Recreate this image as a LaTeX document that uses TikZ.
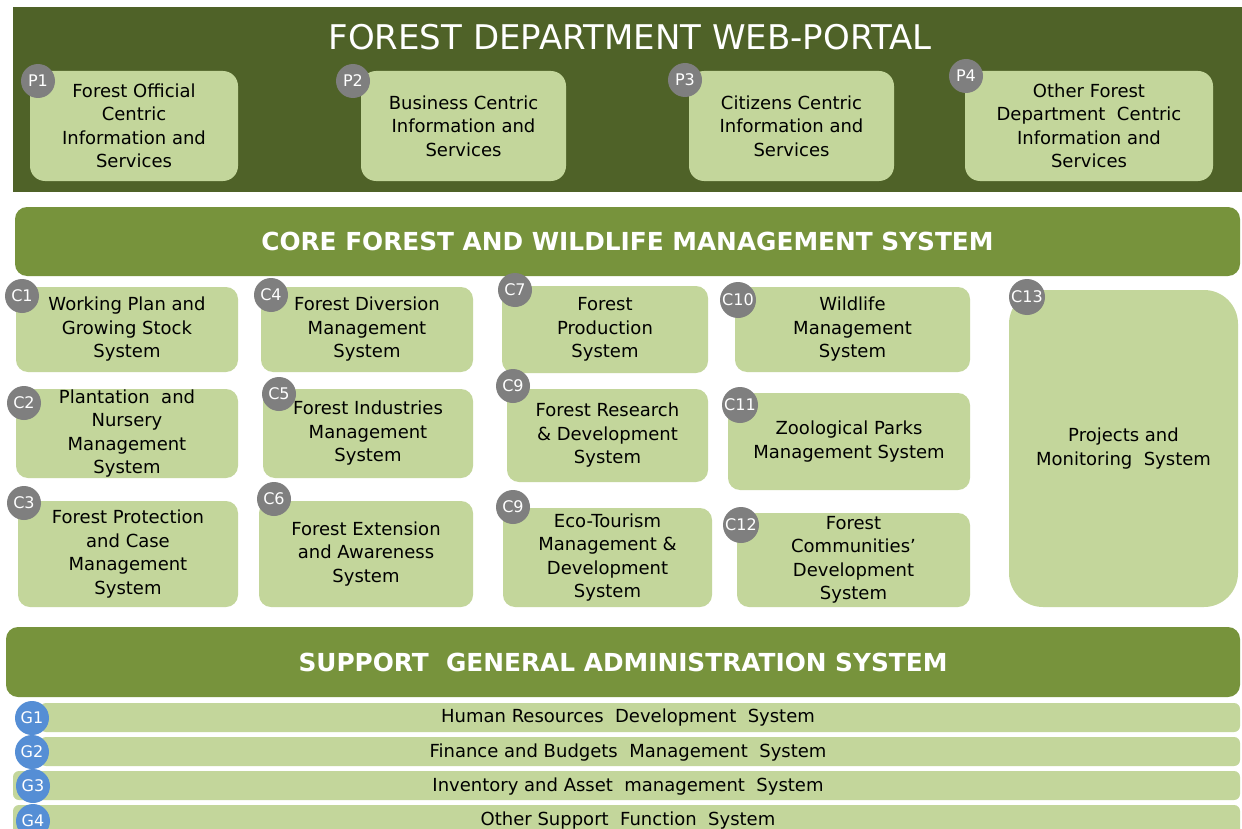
\documentclass[tikz,border=0pt]{standalone}
\usepackage{fontspec}
\setmainfont{DejaVu Sans}
\usepackage{xcolor}
\usetikzlibrary{positioning}

\definecolor{portalgreen}{HTML}{4F6228}
\definecolor{bandgreen}{HTML}{77933C}
\definecolor{boxgreen}{HTML}{C3D69B}
\definecolor{badgegray}{HTML}{7F7F7F}
\definecolor{badgeblue}{HTML}{558ED5}

\tikzset{
    band/.style={fill=bandgreen, rounded corners=6pt, inner sep=0pt, text=white,
        minimum height=35pt, font=\fontsize{12.4}{14}\selectfont\bfseries},
    pbox/.style={fill=boxgreen, rounded corners=7.5pt, inner sep=0pt, align=center,
        minimum height=55pt, font=\fontsize{9}{11.75}\selectfont},
    cbox/.style={pbox, rounded corners=6pt},
    gbar/.style={fill=boxgreen, rounded corners=3pt, inner sep=0pt, minimum height=14.5pt},
    gtext/.style={inner sep=0pt, font=\fontsize{9}{10}\selectfont},
    badge/.style={circle, fill=badgegray, text=white, minimum size=17pt, inner sep=0pt,
        font=\fontsize{8}{9}\selectfont},
    gbadge/.style={badge, fill=badgeblue}
}

\begin{document}
\begin{tikzpicture}[x=0.5pt, y=-0.5pt]
    \clip (0,0) rectangle (1242,829);
    \fill[white] (0,0) rectangle (1242,829);

    % Web portal
    \fill[portalgreen] (13,7) rectangle (1242,192);
    \node[text=white, font=\fontsize{17}{19}\selectfont] (portaltitle) at (630,37) {FOREST DEPARTMENT WEB-PORTAL};
    \node[pbox, minimum width=104pt] (p1) at (134,126) {Forest Official\\Centric\\Information and\\Services};
    \node[pbox, minimum width=102.5pt] (p2) at (463.5,126) {Business Centric\\Information and\\Services};
    \node[pbox, minimum width=102.5pt] (p3) at (791.5,126) {Citizens Centric\\Information and\\Services};
    \node[pbox, minimum width=124pt] (p4) at (1089,126) {Other Forest\\Department \ Centric\\Information and\\Services};
    \node[badge] (bp1) at (38,81) {P1};
    \node[badge] (bp2) at (353,81) {P2};
    \node[badge] (bp3) at (685,80) {P3};
    \node[badge] (bp4) at (966,76) {P4};

    % Core system
    \node[band, minimum width=612.5pt, minimum height=34.5pt] (core) at (627.5,241.5) {CORE FOREST AND WILDLIFE MANAGEMENT SYSTEM};

    \node[cbox, minimum width=111pt, minimum height=42.5pt] (c1) at (127,329.5) {Working Plan and\\Growing Stock\\System};
    \node[cbox, minimum width=111pt, minimum height=44.5pt] (c2) at (127,433.5) {Plantation \ and\\Nursery\\Management\\System};
    \node[cbox, minimum width=110pt, minimum height=53pt] (c3) at (128,554) {Forest Protection\\and Case\\Management\\System};
    \node[cbox, minimum width=106pt, minimum height=42.5pt] (c4) at (367,329.5) {Forest Diversion\\Management\\System};
    \node[cbox, minimum width=105pt, minimum height=44.5pt] (c5) at (368,433.5) {Forest Industries\\Management\\System};
    \node[cbox, minimum width=107pt, minimum height=53pt] (c6) at (366,554) {Forest Extension\\and Awareness\\System};
    \node[cbox, minimum width=103pt, minimum height=43.5pt] (c7) at (605,329.5) {Forest\\Production\\System};
    \node[cbox, minimum width=100.5pt, minimum height=46.5pt] (c9a) at (607.5,435.5) {Forest Research\\\& Development\\System};
    \node[cbox, minimum width=104.5pt, minimum height=49.5pt] (c9b) at (607.5,557.5) {Eco-Tourism\\Management \&\\Development\\System};
    \node[cbox, minimum width=117.5pt, minimum height=42.5pt] (c10) at (852.5,329.5) {Wildlife\\Management\\System};
    \node[cbox, minimum width=121pt, minimum height=48.5pt] (c11) at (849,441.5) {Zoological Parks\\Management System};
    \node[cbox, minimum width=116.5pt, minimum height=47pt] (c12) at (853.5,560) {Forest\\Communities’\\Development\\System};
    \node[cbox, rounded corners=17pt, minimum width=114.5pt, minimum height=158.5pt] (c13) at (1123.5,448.5) {Projects and\\Monitoring \ System};

    \node[badge] (bc1) at (22,296) {C1};
    \node[badge] (bc2) at (24,403) {C2};
    \node[badge] (bc3) at (24,503) {C3};
    \node[badge] (bc4) at (271,295) {C4};
    \node[badge] (bc5) at (279,394) {C5};
    \node[badge] (bc6) at (274,499) {C6};
    \node[badge] (bc7) at (515,290) {C7};
    \node[badge] (bc9a) at (513,386) {C9};
    \node[badge] (bc9b) at (513,507) {C9};
    \node[badge, minimum size=18pt] (bc10) at (738,300) {C10};
    \node[badge, minimum size=18pt] (bc11) at (740,405) {C11};
    \node[badge, minimum size=18pt] (bc12) at (741,525) {C12};
    \node[badge, minimum size=18pt] (bc13) at (1027,297) {C13};

    % Support system
    \node[band, minimum width=617pt] (support) at (623,662) {SUPPORT \ GENERAL ADMINISTRATION SYSTEM};

    \node[gbar, minimum width=600pt] (g1) at (640,717.5) {};
    \node[gbar, minimum width=600pt] (g2) at (640,751.5) {};
    \node[gbar, minimum width=613.5pt] (g3) at (626.5,785.5) {};
    \node[gbar, minimum width=613.5pt, minimum height=16.5pt] (g4) at (626.5,821.5) {};
    \node[gtext] (g1text) at (628,718) {Human Resources \ Development \ System};
    \node[gtext] (g2text) at (628,752.5) {Finance and Budgets \ Management \ System};
    \node[gtext] (g3text) at (628,786.5) {Inventory and Asset \ management \ System};
    \node[gtext] (g4text) at (628,821) {Other Support \ Function \ System};
    \node[gbadge] (bg1) at (32,718) {G1};
    \node[gbadge] (bg2) at (32,752) {G2};
    \node[gbadge] (bg3) at (33,786) {G3};
    \node[gbadge] (bg4) at (33,821) {G4};
\end{tikzpicture}
\end{document}
